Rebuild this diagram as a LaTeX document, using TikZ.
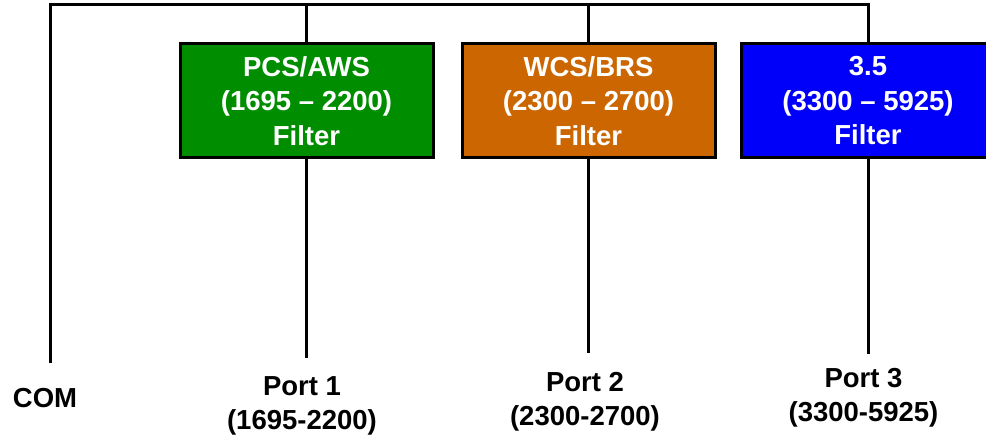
\documentclass[tikz,border=0pt]{standalone}
\usepackage{fontspec}
\setmainfont{Liberation Sans}
\definecolor{fgreen}{RGB}{0,142,0}
\definecolor{forange}{RGB}{204,102,0}
\definecolor{fblue}{RGB}{0,0,250}
\begin{document}
\begin{tikzpicture}[x=1pt,y=-1pt,
  wire/.style={line width=3pt,line cap=rect},
  filterbox/.style={draw=black,line width=3pt,minimum width=253pt,minimum height=114pt,
    inner sep=0pt,align=center,text=white,
    font=\bfseries\fontsize{27.5}{34.5}\selectfont},
  portlabel/.style={align=center,text=black,inner sep=0pt,
    font=\bfseries\fontsize{27.5}{34.5}\selectfont}]
\useasboundingbox (0,0) rectangle (986,438);
% filters
\node[filterbox,fill=fgreen] (f1) at (306.5,101) {PCS/AWS\\(1695 – 2200)\\Filter};
\node[filterbox,fill=forange] (f2) at (588.5,101) {WCS/BRS\\(2300 – 2700)\\Filter};
\node[filterbox,fill=fblue] (f3) at (868,101) {3.5\\(3300 – 5925)\\Filter};
% coordinates
\coordinate (ctop) at (50,5);
\coordinate (cbot) at (50,362);
\coordinate (t1) at (306.5,5);
\coordinate (t2) at (588.5,5);
\coordinate (t3) at (868,5);
\coordinate (b1) at (306.5,357);
\coordinate (b2) at (588.5,352);
\coordinate (b3) at (868,353);
% wiring
\draw[wire,line join=miter] (cbot) -- (ctop) -- (t3) -- (f3.north);
\draw[wire] (t1) -- (f1.north);
\draw[wire] (t2) -- (f2.north);
\draw[wire] (f1.south) -- (b1);
\draw[wire] (f2.south) -- (b2);
\draw[wire] (f3.south) -- (b3);
% labels
\node[portlabel,anchor=base] (com) at (45,407) {COM};
\node[portlabel,anchor=north] (p1) at (302,376) {Port 1\\(1695-2200)};
\node[portlabel,anchor=north] (p2) at (585,372) {Port 2\\(2300-2700)};
\node[portlabel,anchor=north] (p3) at (863.5,368) {Port 3\\(3300-5925)};
\end{tikzpicture}
\end{document}
